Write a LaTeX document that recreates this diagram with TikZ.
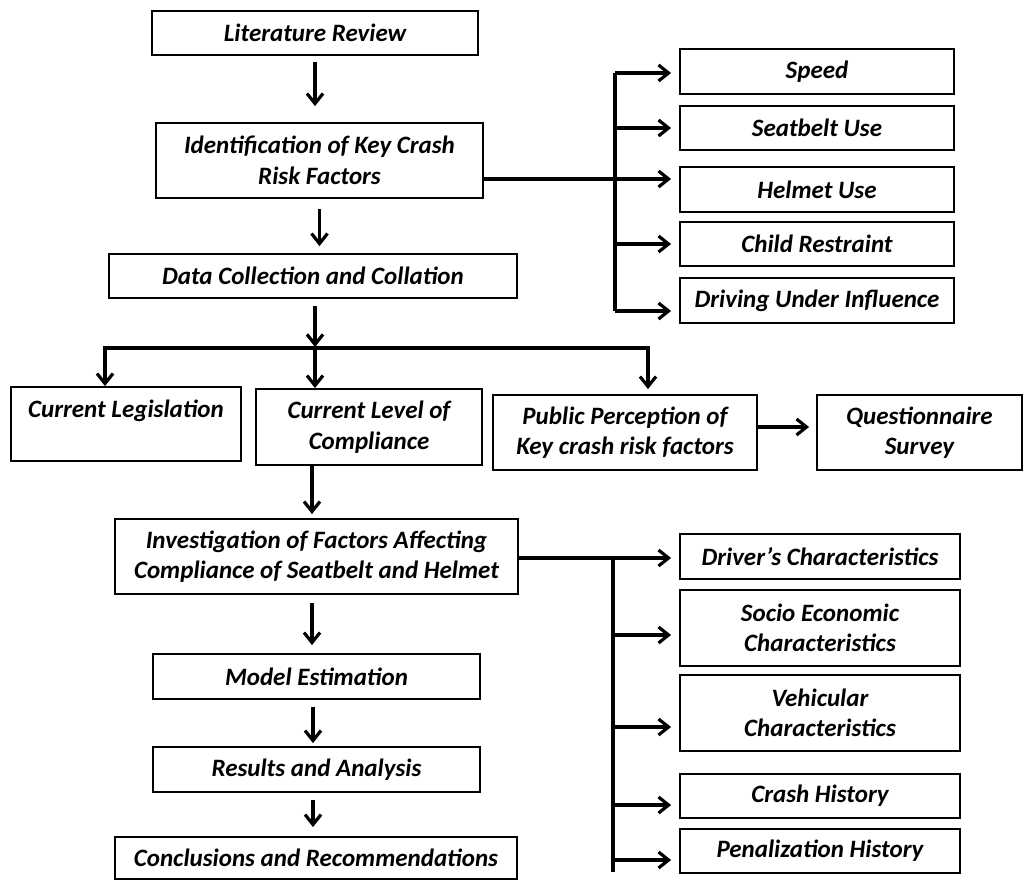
\documentclass[tikz,border=0pt]{standalone}
\usepackage{fontspec}
\setmainfont{Carlito}
\usetikzlibrary{arrows.meta}
\begin{document}
\begin{tikzpicture}[x=1pt,y=-1pt,
 box/.style={draw, line width=1.8pt, rectangle, align=center, inner sep=0pt,
   font=\fontsize{25}{30.5}\selectfont\bfseries\itshape},
 line/.style={line width=3.2pt},
 arr/.style={line width=3.2pt, -{Straight Barb[length=10pt,width=16pt]}},
 both/.style={line width=3.2pt, {Straight Barb[length=10pt,width=16pt]}-{Straight Barb[length=10pt,width=16pt]}},
]
\useasboundingbox (0,0) rectangle (1024,880);
% main column
\node[box, minimum width=326pt, minimum height=44pt] (lit) at (315,33) {Literature Review};
\node[box, minimum width=327pt, minimum height=75pt] (ident) at (319.5,160.5) {Identification of Key Crash\\Risk Factors};
\node[box, minimum width=408pt, minimum height=44pt] (data) at (313,276) {Data Collection and Collation};
% risk factors
\node[box, minimum width=274pt, minimum height=45pt] (speed) at (817,71.5) {Speed};
\node[box, minimum width=274pt, minimum height=44pt] (seat) at (817,128) {Seatbelt Use};
\node[box, minimum width=274pt, minimum height=45pt] (helmet) at (817,189.5) {Helmet Use};
\node[box, minimum width=274pt, minimum height=44pt] (child) at (817,244) {Child Restraint};
\node[box, minimum width=274pt, minimum height=45pt] (dui) at (817,300.5) {Driving Under Influence};
% second row
\node[box, minimum width=230pt, minimum height=74pt] (leg) at (126,424) {Current Legislation\\~};
\node[box, minimum width=226pt, minimum height=76pt] (level) at (369,427) {Current Level of\\Compliance};
\node[box, minimum width=264pt, minimum height=75pt] (pub) at (625,432.5) {Public Perception of\\Key crash risk factors};
\node[box, minimum width=205pt, minimum height=75pt] (quest) at (919.5,432.5) {Questionnaire\\Survey};
% lower column
\node[box, minimum width=403pt, minimum height=75pt] (inv) at (316.5,556.5) {Investigation of Factors Affecting\\Compliance of Seatbelt and Helmet};
\node[box, minimum width=327pt, minimum height=45pt] (model) at (316.5,676.5) {Model Estimation};
\node[box, minimum width=327pt, minimum height=45pt] (res) at (316.5,769.5) {Results and Analysis};
\node[box, minimum width=402pt, minimum height=42pt] (conc) at (316,858) {Conclusions and Recommendations};
% characteristics
\node[box, minimum width=280pt, minimum height=45pt] (drv) at (820,556.5) {Driver’s Characteristics};
\node[box, minimum width=280pt, minimum height=76pt] (socio) at (820,628) {Socio Economic\\Characteristics};
\node[box, minimum width=280pt, minimum height=76pt] (veh) at (820,713) {Vehicular\\Characteristics};
\node[box, minimum width=280pt, minimum height=44pt] (crash) at (820,796) {Crash History};
\node[box, minimum width=280pt, minimum height=44pt] (pen) at (820,851) {Penalization History};

% vertical flow arrows
\draw[arr, shorten <=6pt, shorten >=16pt] (lit.south) -- (lit.south |- ident.north);
\draw[arr, shorten <=10pt, shorten >=7pt] (ident.south) -- (ident.south |- data.north);
\coordinate (bL) at (105,348);
\coordinate (bM) at (315,348);
\coordinate (bR) at (648,348);
\draw[arr, shorten <=7pt, shorten >=1pt] (data.south -| bM) -- (bM);
\draw[both, shorten >=5pt] (bL |- leg.north) -- (bL) -- (bR) -- (bR |- pub.north);
\draw[arr] (bM) -- (bM |- level.north);
\draw[arr, shorten >=7pt] (pub.east |- 0,427) -- (quest.west |- 0,427);
\coordinate (lv) at (312,0);
\draw[arr, shorten >=4pt] (level.south -| lv) -- (inv.north -| lv);
\draw[arr, shorten <=8pt, shorten >=8pt] (inv.south -| lv) -- (model.north -| lv);
\coordinate (lw) at (313,0);
\draw[arr, shorten <=7pt, shorten >=3pt] (model.south -| lw) -- (res.north -| lw);
\draw[arr, shorten <=7pt, shorten >=9pt] (res.south -| lw) -- (conc.north -| lw);

% risk factor branch
\coordinate (kt) at (615,73);
\coordinate (kb) at (615,311);
\draw[line] (kt) -- (kb);
\draw[arr, shorten >=8pt] (kt) -- (kt -| speed.west);
\draw[arr, shorten >=8pt] (seat.west -| kt) -- (seat.west);
\coordinate (kh) at (0,179);
\draw[arr, shorten >=8pt] (ident.east |- kh) -- (helmet.west |- kh);
\draw[arr, shorten >=8pt] (child.west -| kt) -- (child.west);
\draw[arr, shorten >=8pt] (kb) -- (kb -| dui.west);

% characteristics branch
\coordinate (ct) at (613,558);
\coordinate (cb) at (613,872);
\coordinate (c2) at (613,635);
\coordinate (c3) at (613,727);
\coordinate (c4) at (613,805);
\coordinate (c5) at (613,860);
\draw[line] (ct) -- (cb);
\draw[arr, shorten >=8pt] (inv.east |- ct) -- (drv.west |- ct);
\draw[arr, shorten >=8pt] (c2) -- (c2 -| socio.west);
\draw[arr, shorten >=8pt] (c3) -- (c3 -| veh.west);
\draw[arr, shorten >=8pt] (c4) -- (c4 -| crash.west);
\draw[arr, shorten >=8pt] (c5) -- (c5 -| pen.west);
\end{tikzpicture}
\end{document}
